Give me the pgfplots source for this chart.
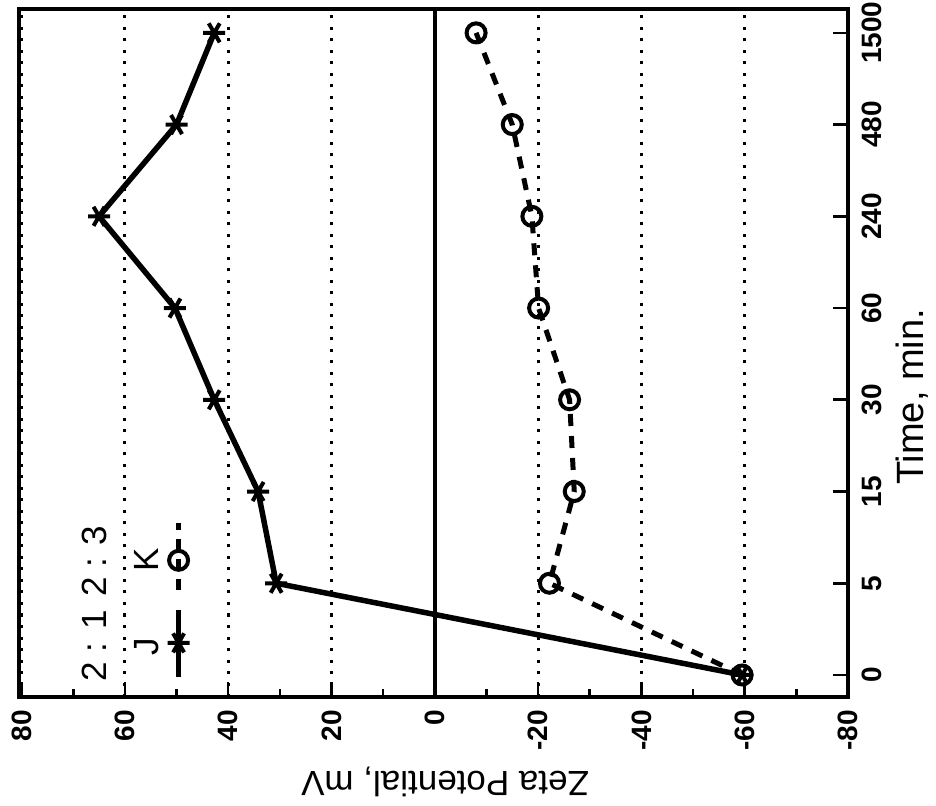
\documentclass[border=0pt]{standalone}
\usepackage{fontspec}
\setmainfont{Liberation Sans}
\usepackage{pgfplots}
\pgfplotsset{compat=1.18}

% Zeta potential against time for the two ratios (J = 2:1, K = 2:3)
\pgfplotstableread{
t  J     K
0  -59.5 -59.5
1  30.7  -22.2
2  34.2  -27.0
3  42.7  -26.1
4  50.3  -20.1
5  65.0  -18.8
6  50.0  -15.0
7  42.7  -8.0
}\zeta

\begin{document}
\begin{tikzpicture}
\useasboundingbox (-19pt,-108pt) rectangle (917pt,697pt);
\begin{axis}[
  scale only axis, width=829pt, height=688pt,
  x dir=reverse, xmin=-80, xmax=80.5,
  ymin=-0.24, ymax=7.26,
  xtick={-80,-60,...,80}, minor x tick num=1,
  ytick={0,...,7}, yticklabels={0,5,15,30,60,240,480,1500},
  xtick pos=left, ytick pos=right, yticklabel pos=right,
  tick align=inside,
  major tick length=15pt, minor tick length=8pt,
  every tick/.style={line width=2.6pt, black},
  axis line style={line width=4.5pt},
  xmajorgrids,
  major grid style={black, line width=3pt, dash pattern=on 3pt off 8.5pt},
  /pgf/number format/assume math mode=true,
  ticklabel style={font=\fontsize{28}{28}\selectfont\bfseries, inner sep=1pt},
  xticklabel style={rotate=90, anchor=east},
  yticklabel style={rotate=90, anchor=north},
  xticklabel shift=12pt, yticklabel shift=13pt,
  clip=false,
]
% zero line
\draw[line width=3.5pt] (axis cs:0,-0.24) -- (axis cs:0,7.26);

% series K (dashed, open circles)
\addplot[black, line width=5pt, dash pattern=on 12pt off 10pt,
  mark=o, mark size=9.5pt, mark options={solid, line width=4pt}]
  table[x=K, y=t] {\zeta};
% series J (solid, asterisks)
\addplot[black, line width=5.5pt,
  mark=asterisk, mark size=11pt, mark options={rotate=90, line width=4pt}]
  table[x=J, y=t] {\zeta};

% key
\addplot[black, line width=4.5pt, forget plot] coordinates {(49.6,-0.02) (49.6,0.71)};
\addplot[black, only marks, mark=asterisk, mark size=11pt,
  mark options={rotate=90, line width=4pt}, forget plot] coordinates {(49.6,0.35)};
\addplot[black, line width=4.5pt, dash pattern=on 11pt off 9pt, forget plot]
  coordinates {(49.6,0.93) (49.6,1.66)};
\addplot[black, only marks, mark=o, mark size=9.5pt,
  mark options={line width=4pt, fill=white}, forget plot] coordinates {(49.6,1.25)};

\node[rotate=90, font=\fontsize{35}{35}\selectfont] at (axis cs:65.9,0.32) {2 : 1};
\node[rotate=90, font=\fontsize{35}{35}\selectfont] at (axis cs:65.9,1.24) {2 : 3};
\node[rotate=90, font=\fontsize{35}{35}\selectfont] at (axis cs:55.8,0.31) {J};
\node[rotate=90, font=\fontsize{35}{35}\selectfont] at (axis cs:55.8,1.25) {K};

% axis titles
\node[rotate=90, font=\fontsize{38}{38}\selectfont]
  at (axis description cs:1.077,0.436) {Time, min.};
\node[rotate=180, font=\fontsize{35}{35}\selectfont]
  at (axis description cs:0.514,-0.1235) {Zeta Potential, mV};
\end{axis}
\end{tikzpicture}
\end{document}
